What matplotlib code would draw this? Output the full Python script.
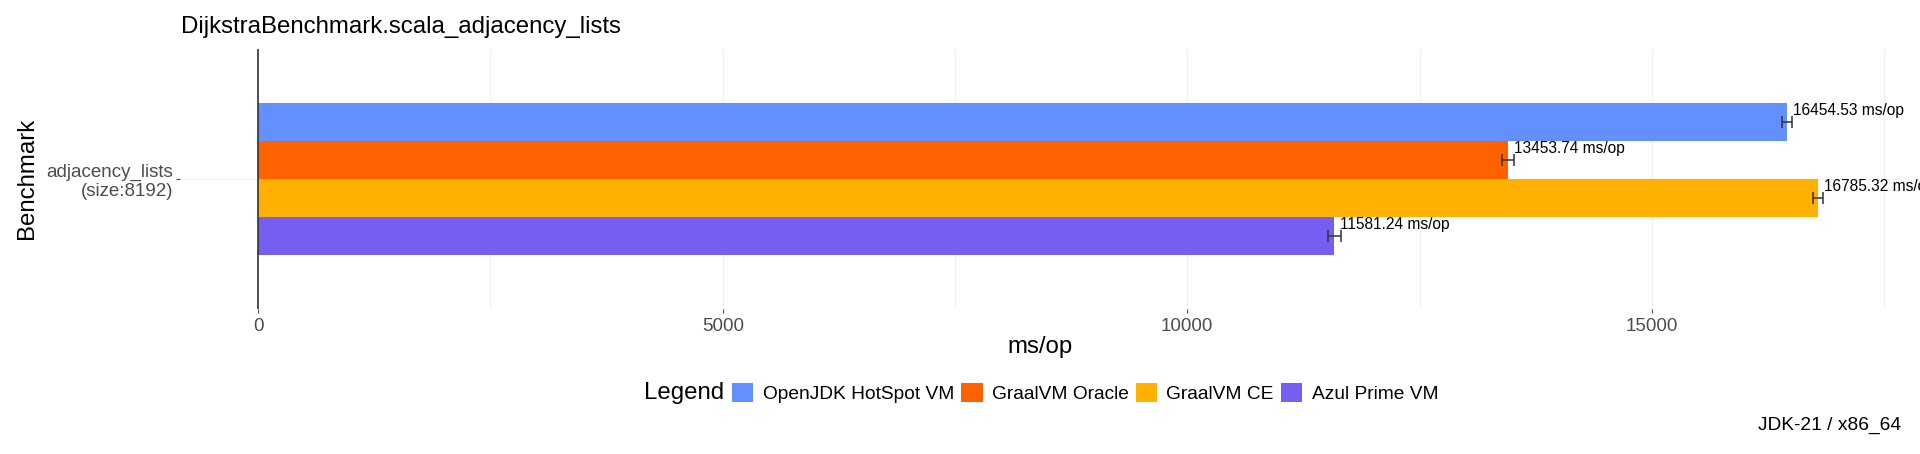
import matplotlib
matplotlib.use("Agg")
import matplotlib.pyplot as plt
from matplotlib.patches import Patch
import matplotlib.transforms as mtransforms

plt.rcParams['font.family'] = ['Liberation Sans', 'DejaVu Sans']

# data
benchmark = "adjacency_lists\n(size:8192)"
vms = ["OpenJDK HotSpot VM", "GraalVM Oracle", "GraalVM CE", "Azul Prime VM"]
scores = [16454.53, 13453.74, 16785.32, 11581.24]
errors = [49, 62, 55, 72]
colors = ["#648FFF", "#FE6100", "#FFB000", "#785EF0"]

W, H = 1920, 454
fig = plt.figure(figsize=(W / 100, H / 100), dpi=100)

# panel placed in pixel coords of the reference
px_left, px_right, px_top, px_bottom = 180, 1901, 49, 308.6
ax = fig.add_axes([px_left / W, 1 - px_bottom / H,
                   (px_right - px_left) / W, (px_bottom - px_top) / H])

bar_h = 0.175
n = len(vms)
for i, (vm, s, e, c) in enumerate(zip(vms, scores, errors, colors)):
    y = 1 + (n / 2 - i - 0.5) * bar_h
    ax.barh(y, s, height=bar_h, color=c, edgecolor='none', zorder=2)
    ax.errorbar(s, y, xerr=e, fmt='none', ecolor='#333333', elinewidth=1.1,
                capsize=4.5, capthick=1.1, zorder=3)
    off = mtransforms.offset_copy(ax.transData, fig=fig, x=4.5, y=5, units='points')
    ax.text(s, y, f"{s:.2f} ms/op", transform=off, fontsize=11.2, color='black',
            ha='left', va='baseline', clip_on=False, zorder=4)

ax.axvline(0, color='#333333', lw=1.2, zorder=3)

ax.set_xlim(-842, 17682)
ax.set_ylim(0.4, 1.6)
ax.set_xticks([0, 5000, 10000, 15000])
ax.set_xticks([2500, 7500, 12500, 17500], minor=True)
ax.set_yticks([1])
ax.set_yticklabels([benchmark], ha='right', multialignment='right')
ax.grid(True, which='both', axis='x', color='#F0F0F0', lw=0.8, zorder=0)
ax.grid(True, which='major', axis='y', color='#F0F0F0', lw=0.8, zorder=0)
ax.set_axisbelow(True)
for sp in ax.spines.values():
    sp.set_visible(False)
ax.tick_params(axis='both', which='major', length=3, width=0.8, color='#4D4D4D',
               labelcolor='#4D4D4D', labelsize=13.5, pad=2)
ax.tick_params(axis='x', which='minor', length=0)
ax.tick_params(axis='x', pad=4)

# titles
fig.text(181 / W, 1 - 27 / H, "DijkstraBenchmark.scala_adjacency_lists",
         fontsize=17.3, ha='left', va='center')
fig.text(27 / W, 1 - 178 / H, "Benchmark", fontsize=17.3, rotation=90,
         ha='center', va='center')
fig.text((px_left + px_right) / 2 / W, 1 - 347 / H, "ms/op", fontsize=17.3,
         ha='center', va='center')
fig.text(1901 / W, 1 - 425 / H, "JDK-21 / x86_64", fontsize=13.8,
         ha='right', va='center')

# legend with the title on the left
leg_y = 1 - 393 / H
fig.text(724 / W, leg_y, "Legend", fontsize=17.3, ha='right', va='center')
handles = [Patch(facecolor=c, edgecolor='none', label=v) for v, c in zip(vms, colors)]
fig.legend(handles=handles, loc='center left', bbox_to_anchor=(732 / W, leg_y),
           ncol=4, frameon=False, fontsize=13.8, handlelength=1.12, handleheight=1.12,
           handletextpad=0.48, columnspacing=0.37, borderpad=0, borderaxespad=0)

fig.savefig("out.png", dpi=100)
